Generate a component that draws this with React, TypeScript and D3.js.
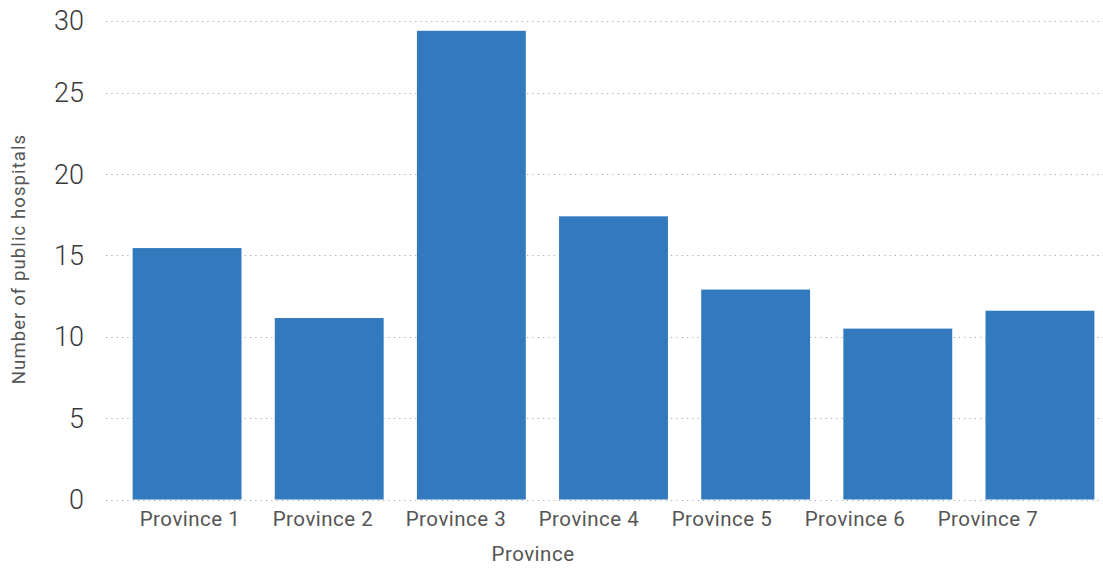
import React from "react";
import * as d3 from "d3";

const categories = ["Province 1", "Province 2", "Province 3", "Province 4", "Province 5", "Province 6", "Province 7"];
const hospitals = [15.45, 11.15, 28.8, 17.4, 12.9, 10.5, 11.6];
const yTicks = [0, 5, 10, 15, 20, 25, 30];

const W = 1103;
const H = 571;

export default function App() {
  const y = d3.scaleLinear().domain([0, 29.42]).range([499.5, 20.7]).clamp(true);
  const x = d3.scaleBand<string>().domain(categories).range([116, 1111]).paddingInner(0.234).paddingOuter(0.117);
  const xl = d3.scaleBand<string>().domain(categories).range([123.5, 1054.5]);
  const font = "Roboto, 'DejaVu Sans', sans-serif";

  return (
    <svg width={W} height={H} style={{ position: "absolute", left: 0, top: 0, background: "#fff" }}>
      <g>
        {yTicks.map((t) => (
          <line
            key={"g" + t}
            x1={106}
            x2={W}
            y1={Math.round(y(t)) + 0.5}
            y2={Math.round(y(t)) + 0.5}
            stroke="#a6a6a6"
            strokeWidth={1}
            strokeDasharray="1.2 4.13"
          />
        ))}
      </g>
      <g>
        {categories.map((c, i) => (
          <rect key={c} x={x(c)} y={y(hospitals[i])} width={x.bandwidth()} height={y(0) - y(hospitals[i])} fill="#3379be" />
        ))}
      </g>
      <g fontFamily={font} fontWeight={300} fontSize={27} fill="#3a3a3a" textAnchor="end">
        {yTicks.map((t) => (
          <text key={"t" + t} x={84} y={y(t)} dy="0.36em">
            {t}
          </text>
        ))}
      </g>
      <g fontFamily={font} fontSize={20.5} letterSpacing={0.5} fill="#555" textAnchor="middle">
        {categories.map((c) => (
          <text key={"l" + c} x={(xl(c) as number) + xl.bandwidth() / 2} y={526}>
            {c}
          </text>
        ))}
      </g>
      <text x={533} y={561} fontFamily={font} fontSize={20.5} letterSpacing={0.5} fill="#555" textAnchor="middle">
        Province
      </text>
      <text
        transform={`translate(25,259) rotate(-90)`}
        fontFamily={font}
        fontSize={18.5}
        letterSpacing={1.1}
        fill="#555"
        textAnchor="middle"
      >
        Number of public hospitals
      </text>
    </svg>
  );
}
